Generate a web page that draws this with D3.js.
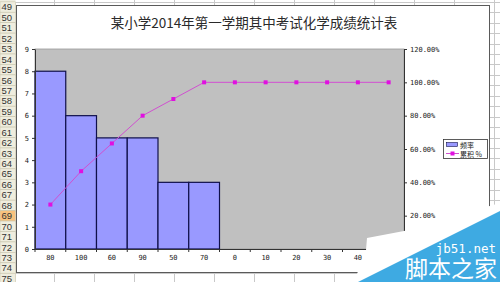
<!DOCTYPE html>
<html lang="zh">
<head>
<meta charset="utf-8">
<title>化学成绩统计表</title>
<script src="https://cdn.jsdelivr.net/npm/d3@7"></script>
<style>
  body { margin: 0; background: #fff; }
  svg { display: block; }
  .tick text { font-family: "DejaVu Sans Mono", monospace; font-size: 7px; fill: #222; }
</style>
</head>
<body>
<script>
// data
var categories = ["80", "100", "60", "90", "50", "70", "0", "10", "20", "30", "40", "其他"];
var frequency = [8, 6, 5, 5, 3, 3, 0, 0, 0, 0, 0, 0];
var cumulative = [26.67, 46.67, 63.33, 80, 90, 100, 100, 100, 100, 100, 100, 100];
var leftTicks = [0, 1, 2, 3, 4, 5, 6, 7, 8, 9];
var rightTicks = [0, 20, 40, 60, 80, 100, 120];
var rowLabels = d3.range(49, 76);
var selectedRow = 69;

var w = 500, h = 282;
var svg = d3.select("body").append("svg").attr("width", w).attr("height", h);

// spreadsheet behind the chart
var rowH = 10.44, rowTop = 1.8;
var grid = svg.append("g");
d3.range(14, w, 40).forEach(function(gx) {
  grid.append("line").attr("x1", gx + 0.5).attr("x2", gx + 0.5).attr("y1", 0).attr("y2", h)
    .attr("stroke", "#c8c8c8");
});
rowLabels.forEach(function(r, i) {
  var gy = Math.round(rowTop + i * rowH) + 0.5;
  grid.append("line").attr("x1", 15).attr("x2", w).attr("y1", gy).attr("y2", gy).attr("stroke", "#c8c8c8");
});

// row header
var header = svg.append("g");
header.append("rect").attr("x", 0).attr("y", 0).attr("width", 15.5).attr("height", h).attr("fill", "#eeecdf");
rowLabels.forEach(function(r, i) {
  var y0 = rowTop + i * rowH;
  header.append("rect").attr("x", 0).attr("y", y0).attr("width", 15.5).attr("height", rowH)
    .attr("fill", r === selectedRow ? "#f9c27d" : "#efedde")
    .attr("stroke", "#c9c5ad").attr("stroke-width", 0.6);
  header.append("text").attr("x", 1.5).attr("y", y0 + rowH - 1.8)
    .attr("font-family", "Liberation Sans, sans-serif").attr("font-size", "9.5px")
    .attr("fill", "#333").text(r);
});

// chart area
svg.append("rect").attr("x", 16.5).attr("y", 5.5).attr("width", 473).attr("height", 267)
  .attr("fill", "#fff").attr("stroke", "#5a5a5a");

svg.append("text").attr("x", 254).attr("y", 28).attr("text-anchor", "middle")
  .attr("font-family", "Noto Sans CJK SC, sans-serif").attr("font-size", "13.5px").attr("fill", "#2a2a2a")
  .text("某小学2014年第一学期其中考试化学成绩统计表");

var plotL = 35, plotR = 404, plotT = 49, plotB = 249;

var x = d3.scaleBand().domain(categories).range([plotL, plotR]).paddingInner(0).paddingOuter(0);
var y = d3.scaleLinear().domain([0, 9]).range([plotB, plotT]);
var y2 = d3.scaleLinear().domain([0, 120]).range([plotB, plotT]);

svg.append("rect").attr("x", plotL).attr("y", plotT).attr("width", plotR - plotL).attr("height", plotB - plotT)
  .attr("fill", "#c0c0c0").attr("stroke", "#9a9a9a").attr("stroke-width", 0.8);

// bars
svg.append("g").selectAll("rect").data(frequency).enter().append("rect")
  .attr("x", function(d, i) { return x(categories[i]); })
  .attr("y", function(d) { return y(d); })
  .attr("width", x.bandwidth())
  .attr("height", function(d) { return plotB - y(d); })
  .attr("fill", "#9999ff")
  .attr("stroke", "#10104a").attr("stroke-width", 1.2);

// cumulative line
var line = d3.line()
  .x(function(d, i) { return x(categories[i]) + x.bandwidth() / 2; })
  .y(function(d) { return y2(d); });
svg.append("path").datum(cumulative).attr("d", line)
  .attr("fill", "none").attr("stroke", "#d050d0").attr("stroke-width", 1);
svg.append("g").selectAll("rect").data(cumulative).enter().append("rect")
  .attr("x", function(d, i) { return x(categories[i]) + x.bandwidth() / 2 - 2; })
  .attr("y", function(d) { return y2(d) - 2; })
  .attr("width", 4).attr("height", 4).attr("fill", "#e010e0");

// axes
var yAxis = svg.append("g").attr("transform", "translate(" + plotL + ",0)")
  .call(d3.axisLeft(y).tickValues(leftTicks).tickSize(3).tickSizeOuter(0).tickPadding(3));
var y2Axis = svg.append("g").attr("transform", "translate(" + plotR + ",0)")
  .call(d3.axisRight(y2).tickValues(rightTicks).tickSize(3).tickSizeOuter(0).tickPadding(3)
    .tickFormat(function(d) { return d.toFixed(2) + "%"; }));
var xAxis = svg.append("g").attr("transform", "translate(0," + plotB + ")")
  .call(d3.axisBottom(x).tickSize(0).tickSizeOuter(0).tickPadding(9));
xAxis.selectAll(".tick text").attr("dy", "0.35em");

// category boundary ticks
var bounds = categories.map(function(c) { return x(c); }).concat([plotR]);
xAxis.selectAll(".bound").data(bounds).enter().append("line").attr("class", "bound")
  .attr("x1", function(d) { return d; }).attr("x2", function(d) { return d; })
  .attr("y1", 0).attr("y2", 3).attr("stroke", "#333");

[yAxis, y2Axis, xAxis].forEach(function(a) {
  a.select(".domain").attr("stroke", "#333");
  a.selectAll(".tick line").attr("stroke", "#333");
});

// legend
var lg = svg.append("g");
lg.append("rect").attr("x", 443.5).attr("y", 139.5).attr("width", 44).attr("height", 19)
  .attr("fill", "#fff").attr("stroke", "#333").attr("stroke-width", 0.8);
lg.append("rect").attr("x", 446.5).attr("y", 142.5).attr("width", 11).attr("height", 4)
  .attr("fill", "#9999ff").attr("stroke", "#10104a").attr("stroke-width", 0.6);
lg.append("line").attr("x1", 446).attr("x2", 459).attr("y1", 153.5).attr("y2", 153.5)
  .attr("stroke", "#d050d0");
lg.append("rect").attr("x", 450.5).attr("y", 151.5).attr("width", 4).attr("height", 4).attr("fill", "#e010e0");
lg.append("text").attr("x", 460).attr("y", 147.5).attr("font-family", "Noto Sans CJK SC, sans-serif")
  .attr("font-size", "7px").attr("fill", "#222").text("频率");
lg.append("text").attr("x", 460).attr("y", 156.5).attr("font-family", "Noto Sans CJK SC, sans-serif")
  .attr("font-size", "7px").attr("fill", "#222").text("累积 %");

// watermark
var wm = svg.append("g");
wm.append("polygon").attr("points", "354,282 366,250 367,238 404,231 500,203 500,282").attr("fill", "#fff");
wm.append("polygon").attr("points", "358,282 500,211 500,282").attr("fill", "#3eaae2");
wm.append("text").attr("x", 496).attr("y", 253).attr("text-anchor", "end")
  .attr("font-family", "DejaVu Sans Mono, monospace").attr("font-size", "12.5px").attr("fill", "#fff")
  .text("jb51.net");
wm.append("text").attr("x", 497).attr("y", 277).attr("text-anchor", "end")
  .attr("font-family", "Noto Sans CJK SC, sans-serif").attr("font-size", "23px").attr("fill", "#fff")
  .text("脚本之家");
</script>
</body>
</html>
